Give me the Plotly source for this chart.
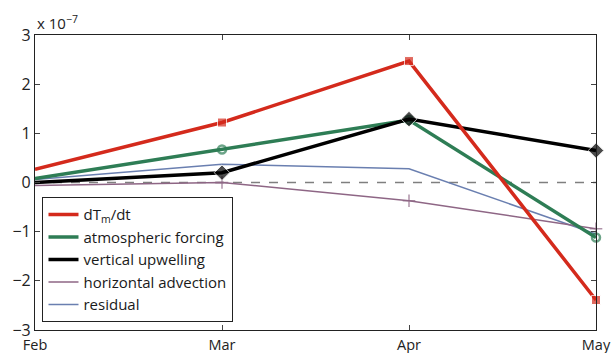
import plotly.graph_objects as go

months = ["Feb", "Mar", "Apr", "May"]
xpos = [0, 1, 2, 3]
dTdt = [0.27, 1.22, 2.47, -2.39]
atmos = [0.08, 0.67, 1.27, -1.12]
vert = [0.0, 0.20, 1.29, 0.65]
horiz = [-0.06, 0.0, -0.37, -0.94]
resid = [0.06, 0.37, 0.28, -1.05]
yticks = [-3, -2, -1, 0, 1, 2, 3]

FONT = "Open Sans, Liberation Sans, sans-serif"
RED, GREEN, PURPLE, BLUE = "#d42a1c", "#2e7d55", "#8e6685", "#6a7fb0"

fig = go.Figure()
fig.add_trace(go.Scatter(x=[0, 3], y=[0, 0], mode="lines", showlegend=False,
                         line=dict(color="#7f7f7f", width=1.5, dash="dash"), hoverinfo="skip"))
fig.add_trace(go.Scatter(x=xpos, y=resid, mode="lines", showlegend=False, cliponaxis=False,
                         line=dict(color=BLUE, width=1.5)))
fig.add_trace(go.Scatter(x=xpos, y=horiz, mode="lines+markers", showlegend=False, cliponaxis=False,
                         line=dict(color=PURPLE, width=1.5),
                         marker=dict(symbol="cross-thin", size=[0, 9, 9, 9], line=dict(color=PURPLE, width=1.5))))
fig.add_trace(go.Scatter(x=xpos, y=atmos, mode="lines+markers", showlegend=False, cliponaxis=False,
                         line=dict(color=GREEN, width=3.5),
                         marker=dict(symbol="circle-open", size=[0, 8, 8, 8], color=GREEN,
                                     line=dict(color=GREEN, width=2.5))))
fig.add_trace(go.Scatter(x=xpos, y=vert, mode="lines+markers", showlegend=False, cliponaxis=False,
                         line=dict(color="black", width=3.5),
                         marker=dict(symbol="diamond", size=[0, 12, 12, 12], color="black")))
fig.add_trace(go.Scatter(x=xpos, y=dTdt, mode="lines+markers", showlegend=False, cliponaxis=False,
                         line=dict(color=RED, width=3.5),
                         marker=dict(symbol="square", size=[0, 9, 9, 9], color=RED)))

# legend entries (lines only)
for name, color, w in [("dT<sub>m</sub>/dt", RED, 3.5), ("atmospheric forcing", GREEN, 3.5),
                       ("vertical upwelling", "black", 3.5), ("horizontal advection", PURPLE, 1.5),
                       ("residual", BLUE, 1.5)]:
    fig.add_trace(go.Scatter(x=[None], y=[None], mode="lines", name=name,
                             line=dict(color=color, width=w)))

fig.update_layout(
    width=611, height=353,
    margin=dict(l=35, r=15, t=35, b=23, autoexpand=False),
    paper_bgcolor="white", plot_bgcolor="white",
    font=dict(family=FONT, size=14, color="#222"),
    showlegend=True,
    legend=dict(x=0.013, y=0.027, xanchor="left", yanchor="bottom",
                bordercolor="#222", borderwidth=1.2, bgcolor="white",
                traceorder="normal", tracegroupgap=0, itemwidth=30,
                font=dict(size=15, family=FONT, color="#1a1a1a")),
    xaxis=dict(range=[0, 3], tickvals=xpos, ticktext=months, ticks="inside", ticklen=5,
               showline=True, linecolor="#222", linewidth=1.2, mirror="ticks",
               showgrid=False, zeroline=False, tickfont=dict(size=14.5), ticklabelstandoff=1,
               automargin=False, ticklabeloverflow="allow"),
    yaxis=dict(range=[-3, 3], tickvals=yticks, ticktext=["\u22123", "\u22122", "\u22121", "0", "1", "2", "3"],
               ticks="inside", ticklen=5,
               showline=True, linecolor="#222", linewidth=1.2, mirror="ticks",
               showgrid=False, zeroline=False, tickfont=dict(size=16),
               automargin=False, ticklabeloverflow="allow"),
    annotations=[dict(text="x 10<sup>\u22127</sup>", xref="paper", yref="paper", x=0, y=1,
                      xanchor="left", yanchor="bottom", showarrow=False, font=dict(size=15))],
)

fig.write_html("out.html", config={"displayModeBar": False},
               post_script="document.body.style.margin='0';document.body.style.padding='0';")
